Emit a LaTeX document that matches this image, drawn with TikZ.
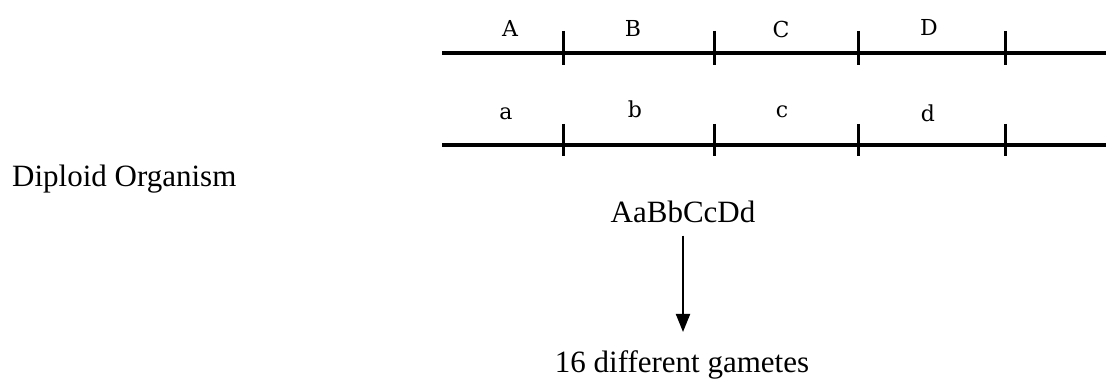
\documentclass[tikz,border=0pt]{standalone}
\usepackage{fontspec}
\setmainfont{Liberation Serif}
\newfontfamily\genefont{DejaVu Serif}
\usetikzlibrary{arrows.meta}
\begin{document}
\begin{tikzpicture}[x=1pt,y=-1pt,
    chrom/.style={line width=3.5pt},
    locus/.style={line width=3pt},
    gene/.style={anchor=base,inner sep=0pt,font=\genefont\fontsize{22}{22}\selectfont},
    label/.style={anchor=base,inner sep=0pt,font=\fontsize{31}{31}\selectfont}]
\useasboundingbox (0,0) rectangle (1106,379);
% Homologous chromosomes
\draw[chrom] (442,53) -- (1106,53);
\draw[chrom] (442,145) -- (1106,145);
\foreach \x in {563,714,858,1005} {
  \draw[locus] (\x,31) -- (\x,65);
  \draw[locus] (\x,124) -- (\x,156);
}
% Alleles
\foreach \g/\x/\y in {A/510/37,B/633/37,C/781/38,D/929/36}
  \node[gene] (gene\g) at (\x,\y) {\g};
\foreach \g/\x/\y in {a/506/120,b/635/118,c/782/118,d/928/122}
  \node[gene] (allele\g) at (\x,\y) {\g};
% Genotype and gametes
\node[label,anchor=base west] (organism) at (12,187) {Diploid Organism};
\node[label] (geno) at (683,223) {AaBbCcDd};
\node[label] (gametes) at (682,373) {16 different gametes};
\draw[line width=2pt,-{Triangle[width=14pt,length=18pt]},
    shorten <=12pt, shorten >=19pt] (geno.south) -- (gametes.north -| geno.south);
\end{tikzpicture}
\end{document}
